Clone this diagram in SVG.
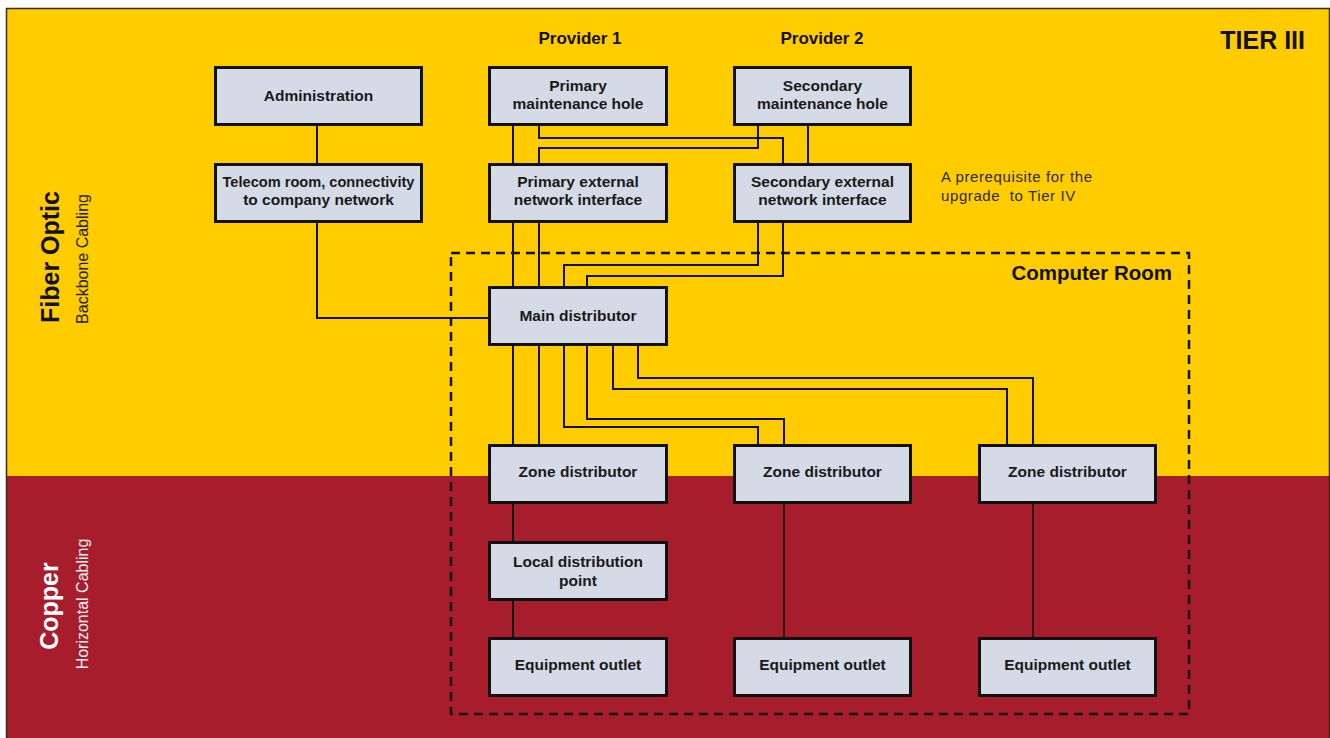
<svg xmlns="http://www.w3.org/2000/svg" width="1330" height="738" viewBox="0 0 1330 738">
<style>
.node rect{fill:#d4dbe7;stroke:#111;stroke-width:3}
.node text{font-family:"Liberation Sans",Arial,sans-serif;font-weight:bold;font-size:15.5px;fill:#1a1a1a;text-anchor:middle}
.conn path{fill:none;stroke:#111;stroke-width:2}
.lbl{font-family:"Liberation Sans",Arial,sans-serif;font-weight:bold;fill:#111}
.sub{font-family:"Liberation Sans",Arial,sans-serif;font-size:16px}
</style>
<rect x="0" y="0" width="1330" height="738" fill="#ffffff"/>
<rect x="6" y="8" width="1324" height="468" fill="#ffcc00"/>
<rect x="6" y="476" width="1324" height="262" fill="#a81d2c"/>
<path d="M6.5 738 V8.5 H1329.5 V738" fill="none" stroke="#3a2a10" stroke-width="1.5"/>

<text class="lbl" x="1305" y="49" font-size="25" text-anchor="end">TIER III</text>
<text class="lbl" x="580" y="44" font-size="17" text-anchor="middle">Provider 1</text>
<text class="lbl" x="822" y="44" font-size="17" text-anchor="middle">Provider 2</text>
<text x="941" y="182" font-family="Liberation Sans,Arial,sans-serif" font-size="15" letter-spacing="0.6" fill="#2a2a2a">A prerequisite for the</text>
<text x="941" y="201" font-family="Liberation Sans,Arial,sans-serif" font-size="15" letter-spacing="0.6" fill="#2a2a2a" style="white-space:pre">upgrade  to Tier IV</text>

<text class="lbl" transform="translate(59,257) rotate(-90)" font-size="25" text-anchor="middle">Fiber Optic</text>
<text class="sub" transform="translate(88,259) rotate(-90)" text-anchor="middle" fill="#222">Backbone Cabling</text>
<text class="lbl" transform="translate(58,606) rotate(-90)" font-size="25" text-anchor="middle" style="fill:#ffffff">Copper</text>
<text class="sub" transform="translate(88,604) rotate(-90)" text-anchor="middle" fill="#f2f2f2">Horizontal Cabling</text>

<g id="computer-room">
<rect x="451" y="253" width="738" height="461" fill="none" stroke="#111" stroke-width="2.5" stroke-dasharray="9 6"/>
<text class="lbl" x="1172" y="280" font-size="20.5" text-anchor="end">Computer Room</text>
</g>

<g class="conn" id="connectors">
<path d="M317 126 V163"/>
<path d="M317 223 V318 H489"/>
<path d="M513 126 V163"/>
<path d="M539 126 V138 H783 V163"/>
<path d="M758 126 V148 H539 V163"/>
<path d="M808 126 V163"/>
<path d="M513 223 V286"/>
<path d="M539 223 V286"/>
<path d="M758 223 V265 H564 V286"/>
<path d="M783 223 V276 H587 V286"/>
<path d="M513 346 V444"/>
<path d="M539 346 V444"/>
<path d="M564 346 V427 H758 V444"/>
<path d="M587 346 V419 H784 V444"/>
<path d="M613 346 V389 H1007 V444"/>
<path d="M638 346 V378 H1033 V444"/>
<path d="M513 504 V541"/>
<path d="M513 601 V637"/>
<path d="M784 504 V637" style="stroke-width:1.6"/>
<path d="M1033 504 V637" style="stroke-width:1.6"/>
</g>

<g class="node" id="administration"><rect x="215.5" y="67.5" width="206" height="57"/><text x="318.5" y="101">Administration</text></g>
<g class="node" id="telecom-room"><rect x="215.5" y="164.5" width="206" height="57"/><text x="318.5" y="187" style="font-size:14.6px">Telecom room, connectivity</text><text x="318.5" y="205">to company network</text></g>
<g class="node" id="primary-mh"><rect x="489.5" y="67.5" width="177" height="57"/><text x="578" y="91">Primary</text><text x="578" y="109">maintenance hole</text></g>
<g class="node" id="secondary-mh"><rect x="734.5" y="67.5" width="176" height="57"/><text x="822.5" y="91">Secondary</text><text x="822.5" y="109">maintenance hole</text></g>
<g class="node" id="primary-ext"><rect x="489.5" y="164.5" width="177" height="57"/><text x="578" y="187">Primary external</text><text x="578" y="205">network interface</text></g>
<g class="node" id="secondary-ext"><rect x="734.5" y="164.5" width="176" height="57"/><text x="822.5" y="187">Secondary external</text><text x="822.5" y="205">network interface</text></g>
<g class="node" id="main-distributor"><rect x="489.5" y="287.5" width="177" height="57"/><text x="578" y="321">Main distributor</text></g>
<g class="node" id="zone-1"><rect x="489.5" y="445.5" width="177" height="57"/><text x="578" y="477">Zone distributor</text></g>
<g class="node" id="zone-2"><rect x="734.5" y="445.5" width="176" height="57"/><text x="822.5" y="477">Zone distributor</text></g>
<g class="node" id="zone-3"><rect x="979.5" y="445.5" width="176" height="57"/><text x="1067.5" y="477">Zone distributor</text></g>
<g class="node" id="local-dp"><rect x="489.5" y="542.5" width="177" height="57"/><text x="578" y="567">Local distribution</text><text x="578" y="586">point</text></g>
<g class="node" id="outlet-1"><rect x="489.5" y="638.5" width="177" height="57"/><text x="578" y="670">Equipment outlet</text></g>
<g class="node" id="outlet-2"><rect x="734.5" y="638.5" width="176" height="57"/><text x="822.5" y="670">Equipment outlet</text></g>
<g class="node" id="outlet-3"><rect x="979.5" y="638.5" width="176" height="57"/><text x="1067.5" y="670">Equipment outlet</text></g>
</svg>
